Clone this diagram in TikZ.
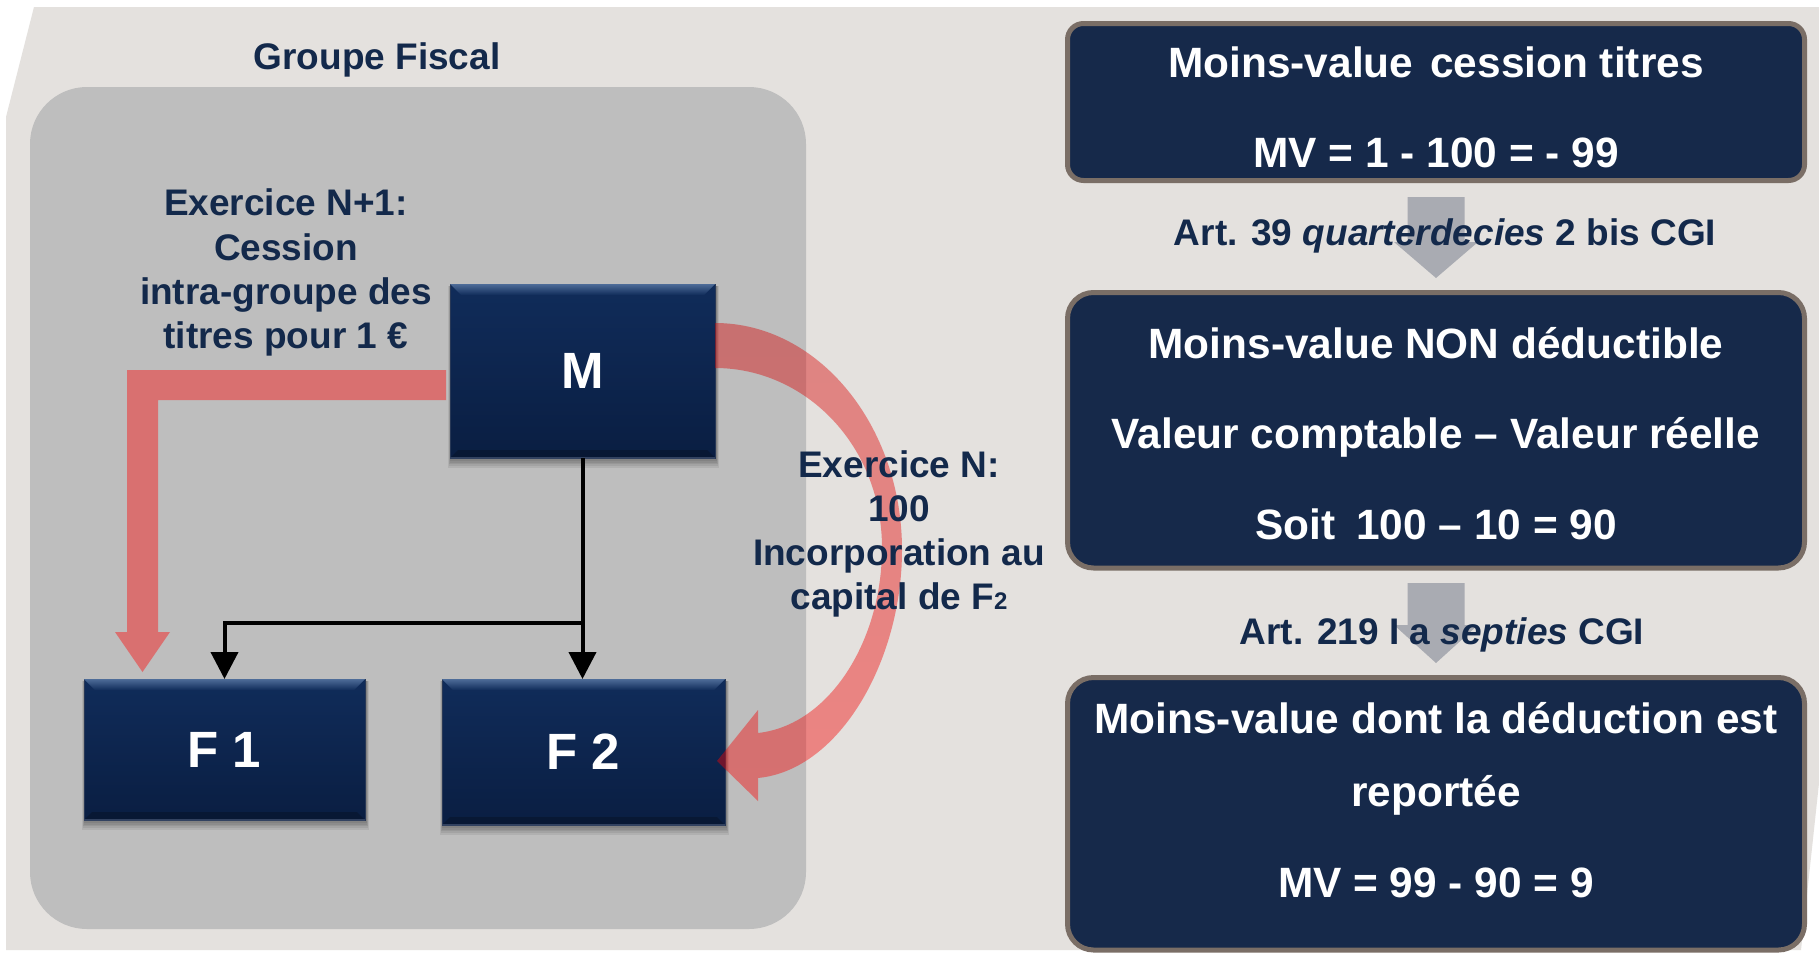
\documentclass[tikz,border=0pt]{standalone}
\usepackage{fontspec}
\setmainfont{Liberation Sans}
\usetikzlibrary{arrows.meta,calc}

\definecolor{bglight}{RGB}{228,225,222}
\definecolor{groupgrey}{RGB}{190,190,190}
\definecolor{navytext}{RGB}{19,41,75}
\definecolor{boxfill}{RGB}{22,41,74}
\definecolor{boxborder}{RGB}{122,110,102}
\definecolor{flowgrey}{RGB}{169,171,178}
\definecolor{bentred}{RGB}{217,112,112}
\definecolor{curvetop}{RGB}{214,5,5}
\definecolor{curvebot}{RGB}{250,5,5}
\definecolor{navyA}{RGB}{16,44,90}
\definecolor{navyB}{RGB}{10,30,66}
\definecolor{navydeep}{RGB}{8,24,52}
\definecolor{bevelhi}{RGB}{78,108,152}
\definecolor{bevello}{RGB}{50,66,96}
\definecolor{entityedge}{RGB}{40,56,86}

\newcommand\sizelbl{\fontsize{18.5}{22}\selectfont\bfseries}
\newcommand\sizebox{\fontsize{21.2}{25}\selectfont\bfseries}
\newcommand\sizeent{\fontsize{25.5}{30}\selectfont\bfseries}

\pgfdeclarelayer{back}
\pgfdeclarelayer{shade}
\pgfsetlayers{back,shade,main}

\begin{document}
\begin{tikzpicture}[x=0.5pt,y=-0.5pt,
  lbltext/.style={anchor=base, inner sep=0pt, text=navytext, font=\sizelbl},
  boxtext/.style={anchor=base, inner sep=0pt, text=white, font=\sizebox},
  entity/.style={rectangle, inner sep=0pt, outer sep=0pt, draw=entityedge,
    line width=0.4pt, top color=navyA, bottom color=navyB, text=white, font=\sizeent},
  infobox/.style={rectangle, rounded corners=13pt, draw=boxborder, line width=2.5pt,
    fill=boxfill, inner sep=0pt, outer sep=0pt, minimum width=368.5pt},
  groupbox/.style={rectangle, rounded corners=28.5pt, fill=groupgrey, inner sep=0pt,
    minimum width=388pt, minimum height=421pt},
  conn/.style={line width=2pt, -{Triangle[width=13.5pt,length=13.5pt]}},
  flowarrow/.style={fill=flowgrey},
]
\useasboundingbox (0,0) rectangle (1819,953);

% backdrop and tax-group panel
\begin{pgfonlayer}{back}
  \fill[white] (0,0) rectangle (1819,953);
  \fill[bglight] (34,7) -- (1819,7) -- (1819,783) -- (1801,950) -- (6,950) -- (6,117) -- cycle;
  \node[groupbox] (grp) at (418,508) {};
\end{pgfonlayer}

% companies
\node[entity, minimum width=132.5pt, minimum height=87pt] (M) at (582.5,371) {M};
\node[entity, minimum width=140.5pt, minimum height=70.5pt] (F1) at (224.5,749.5) {F 1};
\node[entity, minimum width=141.5pt, minimum height=73pt] (F2) at (583.5,752) {F 2};

% bevels
\foreach \n in {M,F1,F2}{
  \shade[top color=bevelhi, bottom color=navyA] (\n.north west) -- (\n.north east)
    -- ($(\n.north east)+(-11,11)$) -- ($(\n.north west)+(11,11)$) -- cycle;
  \fill[navydeep] (\n.south west) -- (\n.south east)
    -- ($(\n.south east)+(-8,-8)$) -- ($(\n.south west)+(8,-8)$) -- cycle;
  \draw[bevello, line width=0.6pt] (\n.south west) -- (\n.south east);
}

% soft shadows under the companies
\begin{pgfonlayer}{shade}
  \foreach \n in {M,F1,F2}{
    \foreach \k in {1,...,5}{
      \fill[black, opacity=0.07] ($(\n.north west)+(-0.6*\k+1,2)$)
        rectangle ($(\n.south east)+(0.6*\k+1,1.8*\k+1)$);
    }
  }
\end{pgfonlayer}

% ownership links
\coordinate (split) at ($(M.south)+(0,165)$);
\draw[conn] (M.south) -- (M.south |- F2.north);
\draw[conn] (split) -| (F1.north);

% intra-group sale: bent arrow from M to F1
\coordinate (bA) at ($(M.west)+(-4,-1)$);
\coordinate (bB) at ($(M.west)+(-4,29)$);
\coordinate (bTip) at ($(F1.north)+(-82,-7)$);
\fill[bentred] (bA) -- (127,370) -- (127,632) -- (115,632) -- (bTip)
  -- (170,632) -- (158,632) -- (158,400) -- (bB) -- cycle;

% capital contribution: curved arrow from M to F2
\coordinate (cTop) at ($(M.north east)+(0,39)$);
\coordinate (cIn) at ($(M.north east)+(0,84)$);
\coordinate (cTip) at ($(F2.east)+(-8,9)$);
\shade[top color=curvetop, bottom color=curvebot, fill opacity=0.42]
  (cTop) .. controls (818,323) and (902,425) .. (902,550)
  .. controls (902,660) and (840,770) .. (758,778)
  -- (758,801) -- (cTip) -- (758,710) -- (758,733)
  .. controls (830,725) and (882,640) .. (882,548)
  .. controls (882,445) and (805,368) .. (cIn) -- cycle;

% labels in the tax group
\node[lbltext] (title) at (377,69) {Groupe Fiscal};
\node[lbltext] (n1a) at (286,215) {Exercice N+1:};
\node[lbltext] (n1b) at (286,260) {Cession};
\node[lbltext] (n1c) at (286,304) {intra-groupe des};
\node[lbltext] (n1d) at (286,348) {titres pour 1 €};
\node[lbltext] (n0a) at (899,477) {Exercice N:};
\node[lbltext] (n0b) at (899,521) {100};
\node[lbltext] (n0c) at (899,565) {Incorporation au};
\node[lbltext] (n0d) at (899,609) {capital de F{\fontsize{12}{12}\selectfont 2}};

% computation chain
\node[infobox, rounded corners=8pt, minimum height=78.5pt] (b1) at (1436,102) {};
\node[infobox, minimum height=137.75pt] (b2) at (1436,430.25) {};
\node[infobox, minimum height=136.25pt] (b3) at (1436,813.75) {};

\fill[flowarrow] ($(b1.south)+(-28.5,16.5)$) -- ($(b1.south)+(28.5,16.5)$)
  -- ($(b2.north)+(28.5,-50.5)$) -- ($(b2.north)+(42,-50.5)$) -- ($(b2.north)+(0,-14.5)$)
  -- ($(b2.north)+(-42,-50.5)$) -- ($(b2.north)+(-28.5,-50.5)$) -- cycle;
\fill[flowarrow] ($(b2.south)+(-28.5,15)$) -- ($(b2.south)+(28.5,15)$)
  -- ($(b3.north)+(28.5,-52.5)$) -- ($(b3.north)+(42,-52.5)$) -- ($(b3.north)+(0,-14.5)$)
  -- ($(b3.north)+(-42,-52.5)$) -- ($(b3.north)+(-28.5,-52.5)$) -- cycle;

\node[boxtext] (t1a) at (1436,77) {Moins-value\hspace{0.4em}cession titres};
\node[boxtext] (t1b) at (1436,167) {MV = 1 - 100 = - 99};
\node[lbltext] (art1) at (1445,245) {Art. 39 \textit{quarterdecies} 2 bis CGI};
\node[boxtext] (t2a) at (1436,358) {Moins-value NON déductible};
\node[boxtext] (t2b) at (1436,448) {Valeur comptable – Valeur réelle};
\node[boxtext] (t2c) at (1436,539) {Soit\hspace{0.5em}100 – 10 = 90};
\node[lbltext] (art2) at (1442,644) {Art. 219 I a \textit{septies} CGI};
\node[boxtext] (t3a) at (1436,733) {Moins-value dont la déduction est};
\node[boxtext] (t3b) at (1436,806) {reportée};
\node[boxtext] (t3c) at (1436,897) {MV = 99 - 90 = 9};
\end{tikzpicture}
\end{document}
